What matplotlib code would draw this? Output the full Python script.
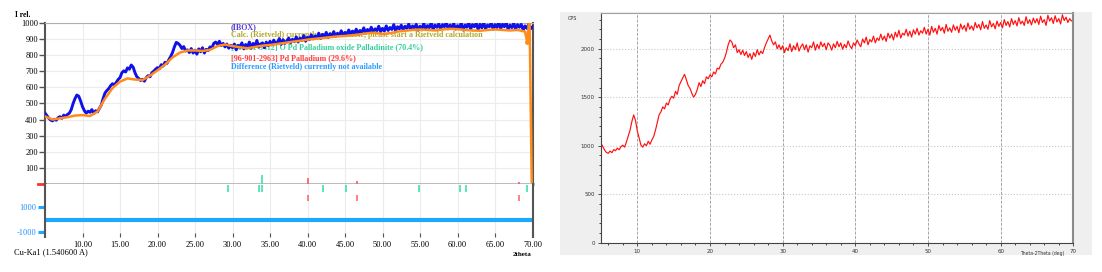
import numpy as np
import matplotlib
matplotlib.use("Agg")
import matplotlib.pyplot as plt
from matplotlib.patches import Rectangle

# ---- left panel: XRD pattern with phase markers ----
two_theta_step = 0.25
obs_counts = [
    440, 425, 408, 398, 392, 402, 396, 412, 418, 408, 428, 420, 432, 440, 462, 500, 530, 552, 545, 515,
    480, 455, 440, 452, 445, 462, 438, 455, 448, 470, 490, 530, 565, 580, 592, 610, 622, 615, 630, 648,
    660, 690, 702, 695, 720, 712, 738, 725, 690, 665, 655, 642, 650, 638, 660, 672, 665, 690, 700, 712,
    722, 715, 740, 732, 755, 748, 770, 790, 815, 850, 878, 872, 860, 840, 852, 825, 832, 815, 840, 812,
    830, 805, 838, 820, 845, 812, 835, 828, 850, 842, 872, 880, 866, 885, 858, 872, 850, 868, 842, 860,
    845, 868, 832, 860, 848, 875, 838, 865, 850, 880, 842, 872, 856, 890, 848, 868, 875, 845, 880, 858,
    885, 862, 892, 870, 880, 902, 866, 895, 872, 888, 905, 875, 898, 882, 912, 880, 905, 890, 920, 885,
    910, 895, 925, 900, 918, 905, 935, 902, 928, 912, 940, 908, 932, 918, 945, 915, 935, 922, 950, 920,
    940, 925, 955, 930, 948, 935, 960, 928, 952, 940, 968, 935, 958, 945, 972, 940, 962, 950, 978, 945,
    965, 948, 980, 952, 970, 958, 988, 950, 975, 962, 985, 955, 978, 965, 992, 958, 980, 968, 990, 955,
    978, 962, 995, 960, 982, 970, 998, 958, 985, 972, 992, 960, 988, 975, 1000, 962, 985, 970, 995, 960,
    982, 968, 998, 955, 985, 972, 1002, 960, 988, 975, 996, 958, 990, 968, 1000, 962, 985, 975, 998, 960,
    988, 970, 1004, 962, 990, 975, 1000, 958, 985, 970, 996, 960, 988, 972, 990, 955, 980, 965, 990, 962,
    975,
]
calc_two_theta = [
    5, 6, 7, 8, 9, 10, 11, 12, 13, 14, 15, 16, 17, 18, 19, 20, 21, 22, 23, 24,
    25, 26, 27, 28, 29, 30, 31, 32, 33, 34, 35, 36, 37, 38, 39, 40, 41, 42, 43,
    44, 45, 46, 47, 48, 49, 50, 51, 52, 53, 54, 55, 56, 57, 58, 59, 60, 61, 62,
    63, 64, 65, 66, 67, 68, 69, 69.3, 69.6, 69.9,
]
calc_counts = [
    420, 400, 408, 415, 425, 428, 422, 450, 530, 595, 635, 655, 648, 645, 672,
    705, 740, 785, 815, 828, 828, 825, 832, 855, 865, 855, 848, 842, 850, 858,
    862, 868, 875, 882, 888, 895, 900, 905, 910, 915, 918, 922, 928, 935, 938,
    930, 935, 945, 950, 955, 958, 955, 952, 958, 962, 960, 955, 952, 950, 955,
    958, 955, 952, 955, 945, 880, 1050, 0,
]
pdo_peaks = [29.36, 33.57, 33.93, 42.1, 45.13, 54.87, 60.29, 61.09, 69.2]
pd_peaks = [40.03, 46.64, 68.2]
pd_sticks = [38, 18, 12]
pdo_big_peak = 33.93
pdo_big_stick = 57

legend_lines = [
    ("(IBOX)", "#5a3fd8"),
    ("Calc. (Rietveld) currently not available, please start a Rietveld calculation", "#b3a82a"),
    ("[96-101-3412] O Pd Palladium oxide Palladinite (70.4%)", "#35cf9c"),
    ("[96-901-2963] Pd Palladium (29.6%)", "#ff3b3b"),
    ("Difference (Rietveld) currently not available", "#2a9cff"),
]
legend_y = [0.970, 0.924, 0.846, 0.778, 0.723]

# ---- right panel: raw scan ----
raw_counts = [
    1025, 990, 955, 930, 922, 945, 928, 960, 948, 975, 958, 990, 1005, 985, 1040, 1100, 1160, 1250, 1317, 1260,
    1150, 1080, 1005, 985, 1020, 1000, 1045, 1015, 1060, 1095, 1160, 1240, 1320, 1350, 1400, 1380, 1440, 1420, 1480, 1510,
    1490, 1560, 1530, 1620, 1660, 1700, 1735, 1680, 1620, 1590, 1540, 1500, 1530, 1580, 1650, 1610, 1670, 1640, 1710, 1690,
    1730, 1710, 1760, 1740, 1800, 1790, 1840, 1860, 1900, 1960, 2040, 2090, 2070, 2010, 2040, 1960, 1990, 1940, 1985, 1930,
    1970, 1910, 1950, 1890, 1960, 1920, 1990, 1935, 1975, 1950, 2010, 2060, 2100, 2140, 2080, 2040, 2070, 2000, 2040, 1990,
    2030, 1960, 2010, 1980, 2050, 1970, 2030, 1990, 2060, 1975, 2020, 2050, 1990, 2040, 1965, 2030, 2010, 2070, 1985, 2045,
    2000, 2070, 2020, 2055, 1990, 2060, 2035, 1985, 2050, 2010, 2075, 2020, 2060, 1995, 2045, 2010, 2080, 2030, 2000, 2060,
    2030, 2090, 2050, 2020, 2100, 2060, 2120, 2040, 2095, 2070, 2130, 2060, 2110, 2085, 2150, 2090, 2130, 2075, 2160, 2110,
    2150, 2090, 2170, 2120, 2190, 2110, 2160, 2140, 2200, 2130, 2180, 2120, 2195, 2150, 2210, 2140, 2185, 2160, 2220, 2150,
    2200, 2140, 2230, 2170, 2210, 2150, 2240, 2185, 2220, 2160, 2250, 2180, 2215, 2170, 2245, 2190, 2230, 2165, 2255, 2200,
    2240, 2180, 2265, 2200, 2235, 2190, 2270, 2215, 2250, 2195, 2280, 2210, 2245, 2200, 2290, 2225, 2260, 2205, 2285, 2230,
    2270, 2215, 2300, 2240, 2280, 2225, 2310, 2250, 2290, 2235, 2320, 2255, 2285, 2240, 2330, 2260, 2300, 2245, 2315, 2265,
    2310, 2250, 2335, 2270, 2300, 2240, 2345, 2285, 2320, 2260, 2340, 2275, 2310, 2255, 2350, 2290, 2325, 2270, 2310, 2285,
    2300,
]

W, H = 1102, 272
fig = plt.figure(figsize=(W / 100, H / 100), dpi=100)
fig.patch.set_facecolor("white")


def px_axes(x0, y0, x1, y1):
    return fig.add_axes([x0 / W, 1 - y1 / H, (x1 - x0) / W, (y1 - y0) / H])


serif = ["Liberation Serif", "DejaVu Serif"]
dark = "#555555"

# main pattern axes
ax = px_axes(45, 22.7, 532.5, 184.2)
ax2 = px_axes(45, 184.2, 532.5, 237)
ax2.sharex(ax)

tt_obs = np.arange(5, 70 + 1e-6, two_theta_step)
ax.plot(tt_obs, obs_counts, color="#1010e8", lw=2.1, zorder=3)
ax.plot(calc_two_theta, calc_counts, color="#ff8c1a", lw=1.8, zorder=4)
ax.plot(calc_two_theta[-3], calc_counts[-3], "o", color="#ff8c1a", ms=2.5, zorder=4)

ax.set_xlim(5, 70)
ax.set_ylim(0, 1000)
ax.set_yticks(np.arange(100, 1001, 100))
ax.set_yticklabels([str(v) for v in range(100, 1001, 100)], fontfamily=serif, fontsize=6)
ax.set_xticks(np.arange(10, 71, 5))
ax.tick_params(axis="x", bottom=False, labelbottom=False)
ax.tick_params(axis="y", direction="out", length=4, width=1, color=dark, pad=1)
ax.grid(True, color="#ececec", lw=0.8)
ax.set_axisbelow(True)
for s in ["left", "right"]:
    ax.spines[s].set_color(dark)
    ax.spines[s].set_linewidth(1.5)
ax.spines["top"].set_color("#b0b0b0")
ax.spines["bottom"].set_visible(False)
ax.axhline(0, color="#bdbdbd", lw=2.2, clip_on=False, zorder=5)
ax.plot([-0.015, 0], [0, 0], color="#ff3030", lw=2, transform=ax.get_yaxis_transform(),
        clip_on=False, zorder=6)

# reference sticks above the zero line
ax.vlines(pd_peaks, 0, pd_sticks, color="#ff5a5a", lw=1.2, zorder=6, clip_on=False)
ax.vlines([pdo_big_peak], 0, [pdo_big_stick], color="#3fe0a8", lw=1.2, zorder=6)

for (txt, col), yy in zip(legend_lines, legend_y):
    ax.text(0.381, yy, txt, transform=ax.transAxes, color=col, fontsize=5.8,
            fontfamily=serif, fontweight="bold", va="center", ha="left", zorder=2)

# lower band: phase positions and difference
ax2.set_ylim(-1400, 2824)
ax2.vlines(pdo_peaks, 2240, 2800, color="#3fe0a8", lw=1.2)
ax2.vlines(pd_peaks, 1480, 1960, color="#ff6a6a", lw=1.2)
ax2.axhline(0, color="#1ea7ff", lw=3)
ax2.set_yticks([1000, -1000])
ax2.set_yticklabels(["1000", "-1000"], fontfamily=serif, fontsize=6, color="#1e90ff")
ax2.tick_params(axis="y", direction="out", length=5, width=2.2, color="#1ea7ff", pad=1)
ax2.set_xticks(np.arange(10, 71, 5))
ax2.set_xticklabels([f"{v:.2f}" for v in range(10, 71, 5)], fontfamily=serif, fontsize=6)
ax2.tick_params(axis="x", direction="in", length=3, color=dark, pad=3)
ax2.grid(True, axis="x", color="#ececec", lw=0.8)
ax2.set_axisbelow(True)
for s in ["top", "bottom"]:
    ax2.spines[s].set_visible(False)
for s in ["left", "right"]:
    ax2.spines[s].set_color(dark)
    ax2.spines[s].set_linewidth(1.5)

fig.text(15 / W, 1 - 15 / H, "I rel.", fontfamily=serif, fontsize=5.5, fontweight="bold", va="center")
fig.text(14 / W, 1 - 252 / H, "Cu-Ka1 (1.540600 A)", fontfamily=serif, fontsize=6, va="center")
fig.text(531 / W, 1 - 254 / H, "2theta", fontfamily=serif, fontsize=5, fontweight="bold",
         va="center", ha="right")

# ---- right panel ----
fig.patches.append(Rectangle((560 / W, 1 - 255 / H), 532 / W, 243.3 / H,
                             transform=fig.transFigure, facecolor="#efefef",
                             edgecolor="none", zorder=-5))
ax3 = px_axes(601, 13.3, 1073.3, 242.7)
ax3.set_zorder(2)
tt_raw = np.arange(5, 70 + 1e-6, two_theta_step)
ax3.plot(tt_raw, raw_counts, color="#ff1010", lw=0.85)
ax3.set_xlim(5, 70)
ax3.set_ylim(0, 2365)
ax3.set_xticks(np.arange(10, 71, 10))
ax3.set_xticks(np.arange(6, 71, 2), minor=True)
ax3.set_yticks(np.arange(0, 2001, 500))
ax3.set_yticks(np.arange(0, 2301, 100), minor=True)
ax3.tick_params(labelsize=4, colors="#333333", length=2.5, width=0.6, pad=2)
ax3.tick_params(which="minor", length=1.5, width=0.5)
ax3.grid(True, axis="y", which="major", color="#c8c8c8", ls=":", lw=0.8)
ax3.grid(True, axis="x", which="major", color="#9a9a9a", ls="--", lw=0.6)
for s in ["left", "bottom"]:
    ax3.spines[s].set_color("#444444")
    ax3.spines[s].set_linewidth(0.8)
ax3.spines["top"].set_color("#a0a0a0")
ax3.spines["right"].set_color("#8a8a8a")
ax3.spines["right"].set_linewidth(1.5)
fig.text(568 / W, 1 - 18 / H, "CPS", fontsize=3.5, color="#333333", va="center")
fig.text(1064 / W, 1 - 254 / H, "Theta-2Theta (deg)", fontsize=3.3, color="#333333",
         va="center", ha="right")

fig.savefig("out.png", dpi=100)
